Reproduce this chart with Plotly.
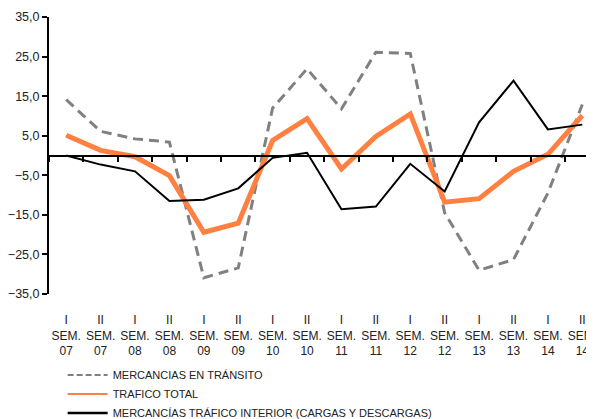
import plotly.graph_objects as go

# semester categories (roman numeral / SEM. / year)
half = ["I", "II"] * 8
years = ["07", "07", "08", "08", "09", "09", "10", "10",
         "11", "11", "12", "12", "13", "13", "14", "14"]
categories = [f"{h}<br>SEM.<br>{y}" for h, y in zip(half, years)]

transito = [14.1, 6.1, 4.2, 3.4, -30.9, -28.4, 12.0, 21.9,
            11.8, 26.1, 25.8, -14.5, -29.0, -26.3, -9.5, 12.9]
total = [5.1, 1.3, -0.3, -5.1, -19.4, -17.1, 3.8, 9.3,
         -3.4, 4.8, 10.5, -11.8, -10.9, -4.0, 0.3, 10.1]
interior = [0.0, -2.3, -4.0, -11.5, -11.2, -8.3, -0.6, 0.7,
            -13.6, -12.9, -2.1, -9.1, 8.4, 18.9, 6.6, 7.8]

names = ["MERCANCIAS EN TRÁNSITO", "TRAFICO TOTAL",
         "MERCANCÍAS TRÁFICO INTERIOR (CARGAS Y DESCARGAS)"]

xrange = [-0.5, 15.34]
font = "Arial, Liberation Sans, sans-serif"

fig = go.Figure()
fig.add_trace(go.Scatter(x=categories, y=transito, mode="lines",
                         name=names[0], showlegend=False,
                         line=dict(color="#808080", width=3, dash="10px,6px")))
fig.add_trace(go.Scatter(x=categories, y=total, mode="lines",
                         name=names[1], showlegend=False,
                         line=dict(color="#FF8040", width=5)))
fig.add_trace(go.Scatter(x=categories, y=interior, mode="lines",
                         name=names[2], showlegend=False,
                         line=dict(color="black", width=2), xaxis="x2"))

# legend entries use thinner sample lines, like the original
fig.add_trace(go.Scatter(x=[None], y=[None], mode="lines", name=names[0],
                         line=dict(color="#808080", width=2, dash="6px,3px")))
fig.add_trace(go.Scatter(x=[None], y=[None], mode="lines", name=names[1],
                         line=dict(color="#FF8040", width=2)))
fig.add_trace(go.Scatter(x=[None], y=[None], mode="lines", name=names[2],
                         line=dict(color="black", width=2.5)))

# the page body adds an 8px offset, so the figure is sized to fit the window
fig.update_layout(
    width=586, height=411,
    margin=dict(l=41, r=0, t=9, b=125, autoexpand=False),
    paper_bgcolor="white", plot_bgcolor="white",
    font=dict(family=font, size=12, color="#222222"),
    separators=", ",
    showlegend=True,
    legend=dict(x=0.025, y=-0.24, xanchor="left", yanchor="top",
                font=dict(size=11, color="#222222"),
                tracegroupgap=0, itemwidth=40,
                bgcolor="rgba(0,0,0,0)"),
    xaxis=dict(type="category", range=xrange, showline=False,
               showgrid=False, zeroline=False, ticks="",
               automargin=False,
               ticklabelstandoff=17, tickfont=dict(size=12)),
    xaxis2=dict(type="category", range=xrange, overlaying="x",
                anchor="free", position=0.5, side="bottom",
                showline=True, linecolor="black", linewidth=2,
                ticks="outside", tickson="boundaries", ticklen=5,
                tickcolor="black", tickwidth=1.5, automargin=False,
                showticklabels=False, showgrid=False, zeroline=False),
    yaxis=dict(range=[-35, 35], tick0=-35, dtick=10, tickformat=".1f",
               showline=True, linecolor="black", linewidth=2,
               ticks="outside", ticklen=5, tickcolor="black", tickwidth=2,
               automargin=False,
               showgrid=False, zeroline=False, tickfont=dict(size=12.5)),
)

fig.write_html("out.html")
